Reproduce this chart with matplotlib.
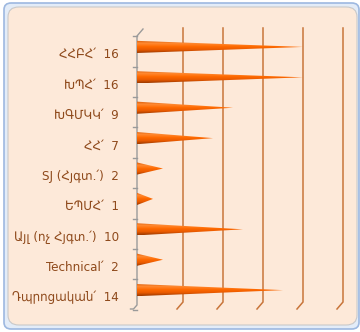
import numpy as np
import matplotlib
matplotlib.use("Agg")
from matplotlib import pyplot as plt
from matplotlib.patches import FancyBboxPatch, Polygon
from matplotlib.colors import LinearSegmentedColormap

# institutions and counts, top to bottom
cats = ["ՀՀԲՀ՛", "ԽՊՀ՛", "ԽԳՄԿԿ՛", "ՀՀ՛", "SJ (Հյգտ.՛)", "ԵՊՄՀ՛",
        "Այլ (ոչ Հյգտ.՛)", "Technical՛", "Դպրոցական՛"]
vals = [16, 16, 9, 7, 2, 1, 10, 2, 14]
grid_steps = [4, 8, 12, 16, 20]

W, H = 360, 332
fig = plt.figure(figsize=(W / 100, H / 100), dpi=100)
fig.patch.set_facecolor("white")

# chart frame
frame = FancyBboxPatch((4 / W, 3 / H), 355 / W, 326 / H, boxstyle="round,pad=0,rounding_size=0.02",
                       transform=fig.transFigure, facecolor="#e3ecf8", edgecolor="#9db8e0", lw=1.2,
                       zorder=-2)
fig.add_artist(frame)
inner = FancyBboxPatch((8 / W, 7 / H), 349 / W, 318 / H, boxstyle="round,pad=0,rounding_size=0.03",
                       transform=fig.transFigure, facecolor="#fde9d9", edgecolor="#c9c9c9", lw=0.8,
                       zorder=-1)
fig.add_artist(inner)

# axes: x in value units (10 px per unit starting at px 137), y in category rows (30.4 px per row)
x0, x1 = 137, 357
ytop, ybot = 20, 315
ax = fig.add_axes([x0 / W, 1 - ybot / H, (x1 - x0) / W, (ybot - ytop) / H])
ax.patch.set_alpha(0)
for s in ax.spines.values():
    s.set_visible(False)

row0, rowh = 53, 30.4
py = lambda p: (p - row0) / rowh  # pixel row -> data row
dx = 0.6
g_top, g_bot, g_front = py(28), py(302), py(309)

# back-wall gridlines with the 3D floor edge
gcol = "#c8753a"
for g in grid_steps:
    ax.plot([g + dx, g + dx, g], [g_top, g_bot, g_front], color=gcol, lw=1.1, solid_joinstyle="miter")

# value axis wall
acol = "#9a9a9a"
ax.plot([dx, 0, 0, -0.35, -0.65], [py(29), py(36), py(305), py(309), py(309)], color=acol, lw=1,
        clip_on=False)
for i in range(len(cats) + 1):
    ax.plot([-0.4, 0], [i - 0.55, i - 0.55], color=acol, lw=1, clip_on=False)

# cones
cmap = LinearSegmentedColormap.from_list("cone", ["#d85a08", "#ff8a33", "#ff6a00", "#e85a00", "#9c3a00"])
grad = np.linspace(0, 1, 64).reshape(-1, 1)
for i, v in enumerate(vals):
    c = i - 0.2
    hh = 0.2
    tip = v + dx
    poly = Polygon([(0, c - hh), (tip, c), (0, c + hh)], closed=True, facecolor="none", edgecolor="none")
    ax.add_patch(poly)
    im = ax.imshow(grad, cmap=cmap, aspect="auto", extent=[0, tip, c + hh, c - hh], zorder=3)
    im.set_clip_path(poly)

ax.set_xlim(0, (x1 - x0) / 10)
ax.set_ylim((ybot - row0) / rowh, (ytop - row0) / rowh)
ax.set_xticks([])
ax.set_yticks(range(len(cats)))
ax.set_yticklabels([f"{c}  {v}" for c, v in zip(cats, vals)], fontsize=9.5, color="#8f4a1c",
                   family="DejaVu Sans", fontstretch="condensed")
ax.tick_params(axis="y", length=0, pad=13)

fig.savefig("out.png", dpi=100)
